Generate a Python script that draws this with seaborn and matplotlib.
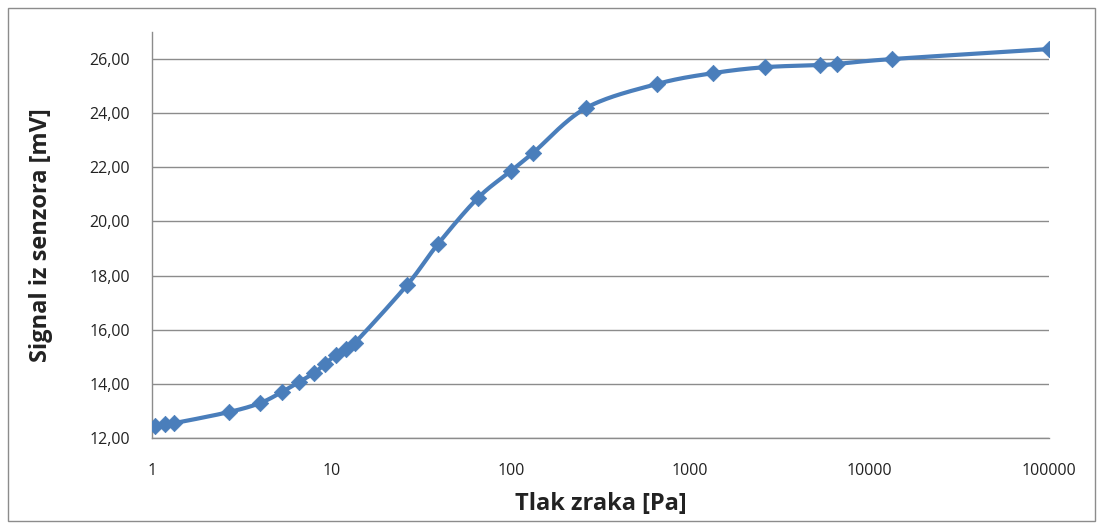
import numpy as np
import pandas as pd
import matplotlib
matplotlib.use("Agg")
import matplotlib.pyplot as plt
import seaborn as sns
from matplotlib.ticker import FuncFormatter, FixedLocator, NullLocator
from matplotlib.patches import Rectangle

pressure = [1.04, 1.18, 1.33, 2.69, 4.0, 5.3, 6.6, 8.0, 9.2, 10.6, 12.1, 13.5,
            26.4, 39.3, 65.6, 100, 133, 262, 653, 1340, 2610, 5300, 6580, 13300, 100000]
signal = [12.45, 12.52, 12.55, 12.96, 13.29, 13.70, 14.07, 14.40, 14.73, 15.07, 15.29, 15.51,
          17.65, 19.17, 20.87, 21.86, 22.53, 24.19, 25.08, 25.48, 25.70, 25.78, 25.82, 26.00, 26.37]
x_ticks = [1, 10, 100, 1000, 10000, 100000]
y_ticks = [12, 14, 16, 18, 20, 22, 24, 26]
x_label = "Tlak zraka [Pa]"
y_label = "Signal iz senzora [mV]"

df = pd.DataFrame({"p": pressure, "s": signal})


def smooth_curve(xs, ys, n=30):
    # Catmull-Rom smoothing (like Excel's smoothed line) in log-x / linear-y space
    lx = np.log10(np.asarray(xs, float)) * 3.0  # scale roughly to pixel aspect
    ly = np.asarray(ys, float)
    P = np.column_stack([lx, ly])
    P = np.vstack([P[0], P, P[-1]])
    out = []
    for i in range(1, len(P) - 2):
        p0, p1, p2, p3 = P[i - 1], P[i], P[i + 1], P[i + 2]
        t = np.linspace(0, 1, n, endpoint=False)[:, None]
        c1 = p1 + (p2 - p0) / 6.0
        c2 = p2 - (p3 - p1) / 6.0
        seg = ((1 - t) ** 3) * p1 + 3 * ((1 - t) ** 2) * t * c1 + 3 * (1 - t) * t ** 2 * c2 + t ** 3 * p2
        out.append(seg)
    out.append(P[-2][None, :])
    out = np.vstack(out)
    return pd.DataFrame({"p": 10 ** (out[:, 0] / 3.0), "s": out[:, 1]})


curve = smooth_curve(pressure, signal)

sns.set_theme(style="white")
plt.rcParams["font.family"] = ["Open Sans", "DejaVu Sans"]

fig = plt.figure(figsize=(11.03, 5.29), dpi=100)
ax = fig.add_axes([152/1103, 1-438/529, (1049-152)/1103, (438-32)/529])

color = "#4A7EBB"
sns.lineplot(data=curve, x="p", y="s", ax=ax, color=color, linewidth=3, sort=False,
             estimator=None)
sns.scatterplot(data=df, x="p", y="s", ax=ax, color=color, marker="D", s=70,
                edgecolor=color, linewidth=0.5, zorder=3)

ax.set_xscale("log")
ax.set_xlim(1, 100000)
ax.set_ylim(12, 27)
ax.xaxis.set_major_locator(FixedLocator(x_ticks))
ax.xaxis.set_minor_locator(NullLocator())
ax.xaxis.set_major_formatter(FuncFormatter(lambda v, _: f"{int(round(v))}"))
ax.yaxis.set_major_locator(FixedLocator(y_ticks))
ax.yaxis.set_major_formatter(FuncFormatter(lambda v, _: f"{v:.2f}".replace(".", ",")))

ax.grid(axis="y", color="#8c8c8c", linewidth=1)
ax.grid(axis="x", visible=False)
for s in ["top", "right"]:
    ax.spines[s].set_visible(False)
for s in ["left", "bottom"]:
    ax.spines[s].set_color("#8c8c8c")
    ax.spines[s].set_linewidth(1)
ax.tick_params(axis="both", which="major", direction="out", length=8, width=1,
               color="#8c8c8c", labelsize=11.5, labelcolor="#222222")
ax.tick_params(axis="y", pad=8)
ax.tick_params(axis="x", pad=10)
ax.set_axisbelow(True)

ax.set_xlabel(x_label, fontsize=17, fontweight="bold", color="#222222", labelpad=9)
ax.set_ylabel(y_label, fontsize=17, fontweight="bold", color="#222222", labelpad=26)

fig.patches.append(Rectangle((8/1103, 8/529), 1-16/1103, 1-16/529, transform=fig.transFigure,
                             fill=False, edgecolor="#8c8c8c", linewidth=1))

fig.savefig("out.png", dpi=100, facecolor="white")
